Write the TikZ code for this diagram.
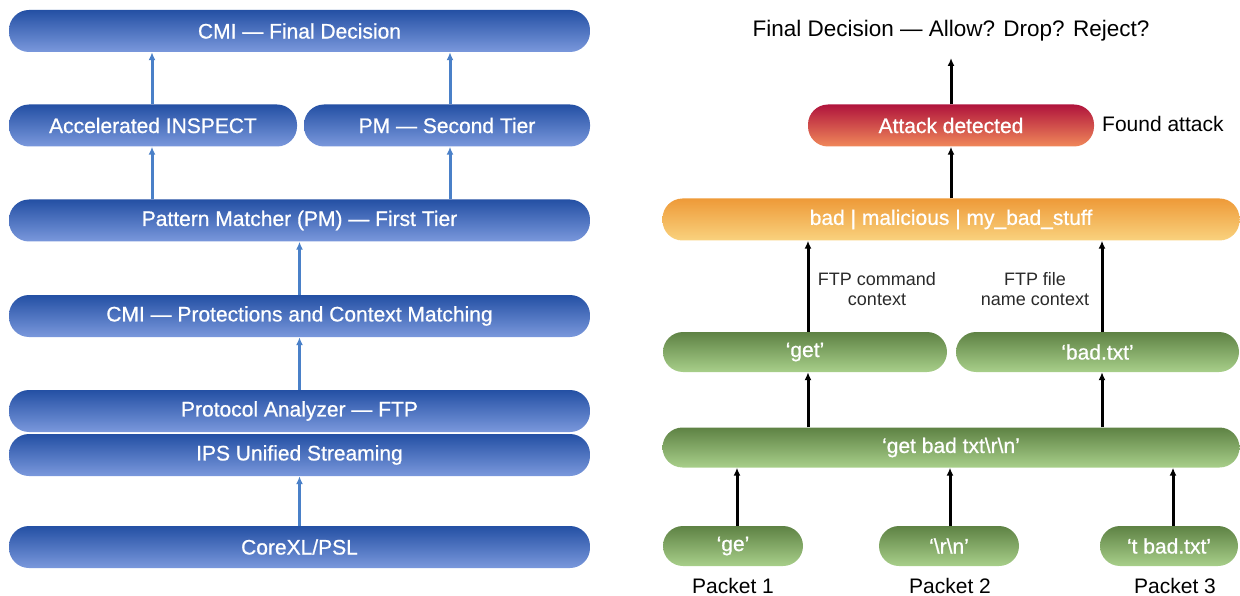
\documentclass[tikz,border=0pt]{standalone}
\usepackage{fontspec}
\setmainfont{Liberation Sans}
\newfontfamily\barfont{Liberation Sans}[FakeBold=0.7,Ligatures=TeX]
\usetikzlibrary{arrows.meta}
\definecolor{blueT}{HTML}{2450A4}
\definecolor{blueB}{HTML}{7A98DC}
\definecolor{redT}{HTML}{B0143C}
\definecolor{redB}{HTML}{F0885A}
\definecolor{orT}{HTML}{EE9A38}
\definecolor{orB}{HTML}{F9D27E}
\definecolor{grT}{HTML}{5E8244}
\definecolor{grB}{HTML}{A8CF8A}
\definecolor{barrowc}{HTML}{4A80C8}
\definecolor{lbl}{HTML}{2A2A2A}
\begin{document}
\begin{tikzpicture}[x=1pt,y=-1pt,
  bar/.style={rounded corners=20pt, minimum height=42pt, inner sep=0pt, text=white,
    font=\barfont\fontsize{21}{24}\selectfont},
  bluebar/.style={bar, top color=blueT, bottom color=blueB},
  redbar/.style={bar, top color=redT, bottom color=redB},
  orbar/.style={bar, top color=orT, bottom color=orB},
  grbar/.style={bar, minimum height=40pt, top color=grT, bottom color=grB},
  blk/.style={text=black, font=\fontsize{21}{24}\selectfont, inner sep=0pt},
  ctx/.style={text=lbl, font=\fontsize{18}{20}\selectfont, align=center, inner sep=0pt},
  barrow/.style={draw=barrowc, line width=3pt, -{Latex[length=8pt,width=7pt]}},
  karrow/.style={draw=black, line width=3pt, -{Latex[length=8pt,width=7pt]}}]
\useasboundingbox (0,0) rectangle (1240,596);
% ---------- left panel ----------
\node[bluebar, minimum width=581pt] (fd) at (299.5,31) {CMI — Final Decision};
\node[bluebar, minimum width=288pt] (ai) at (153,125.5) {Accelerated INSPECT};
\node[bluebar, minimum width=286pt] (pm2) at (447,125.5) {PM — Second Tier};
\node[bluebar, minimum width=581pt] (pm1) at (299.5,220.5) {Pattern Matcher (PM) — First Tier};
\node[bluebar, minimum width=581pt] (cmi) at (299.5,316) {CMI — Protections and Context Matching};
\node[bluebar, minimum width=581pt] (pa) at (299.5,411) {Protocol Analyzer — FTP};
\node[bluebar, minimum width=581pt] (ips) at (299.5,455) {IPS Unified Streaming};
\node[bluebar, minimum width=581pt] (core) at (299.5,547) {CoreXL/PSL};
\draw[barrow] ([xshift=-1pt]ai.north) -- ([xshift=-1pt]ai.north |- fd.south);
\draw[barrow] ([xshift=3pt]pm2.north) -- ([xshift=3pt]pm2.north |- fd.south);
\draw[barrow] ([xshift=-1pt]ai.south |- pm1.north) -- ([xshift=-1pt]ai.south);
\draw[barrow] ([xshift=3pt]pm2.south |- pm1.north) -- ([xshift=3pt]pm2.south);
\draw[barrow] (cmi.north) -- (pm1.south);
\draw[barrow] (pa.north) -- (cmi.south);
\draw[barrow] (core.north) -- (ips.south);
% ---------- right panel ----------
\node[blk, font=\fontsize{22.5}{26}\selectfont] (title) at (951,31) {Final Decision — Allow? Drop? Reject?};
\node[redbar, minimum width=286pt] (att) at (951,125.5) {Attack detected};
\node[blk, anchor=west] (found) at (1102,124) {Found attack};
\node[orbar, minimum width=577pt] (bad) at (951,219.5) {bad | malicious | my\_bad\_stuff};
\node[grbar, minimum width=284pt] (get) at (805,352) {‘get’};
\node[grbar, minimum width=283pt] (btxt) at (1097.5,352) {‘bad.txt’};
\node[grbar, minimum width=577pt] (gbt) at (951,447.5) {‘get bad txt\textbackslash r\textbackslash n’};
\node[grbar, minimum width=140pt] (ge) at (733,546) {‘ge’};
\node[grbar, minimum width=140pt] (rn) at (949,546) {‘\textbackslash r\textbackslash n’};
\node[grbar, minimum width=138pt] (tb) at (1169,546) {‘t bad.txt’};
\node[blk] (p1) at (733,586) {Packet 1};
\node[blk] (p2) at (950,586) {Packet 2};
\node[blk] (p3) at (1175,586) {Packet 3};
\node[ctx] (c1) at (877,289) {FTP command\\context};
\node[ctx] (c2) at (1035,289) {FTP file\\name context};
\coordinate (topend) at (951,58);
\draw[karrow] (att.north) -- (topend);
\draw[karrow] (bad.north) -- (att.south);
\draw[karrow] ([xshift=3pt]get.north) -- ([xshift=3pt]get.north |- bad.south);
\draw[karrow] ([xshift=4.5pt]btxt.north) -- ([xshift=4.5pt]btxt.north |- bad.south);
\draw[karrow] ([xshift=3pt]get.south |- gbt.north) -- ([xshift=3pt]get.south);
\draw[karrow] ([xshift=4.5pt]btxt.south |- gbt.north) -- ([xshift=4.5pt]btxt.south);
\draw[karrow] ([xshift=4pt]ge.north) -- ([xshift=4pt]ge.north |- gbt.south);
\draw[karrow] ([xshift=1pt]rn.north) -- ([xshift=1pt]rn.north |- gbt.south);
\draw[karrow] ([xshift=4pt]tb.north) -- ([xshift=4pt]tb.north |- gbt.south);
\end{tikzpicture}
\end{document}
